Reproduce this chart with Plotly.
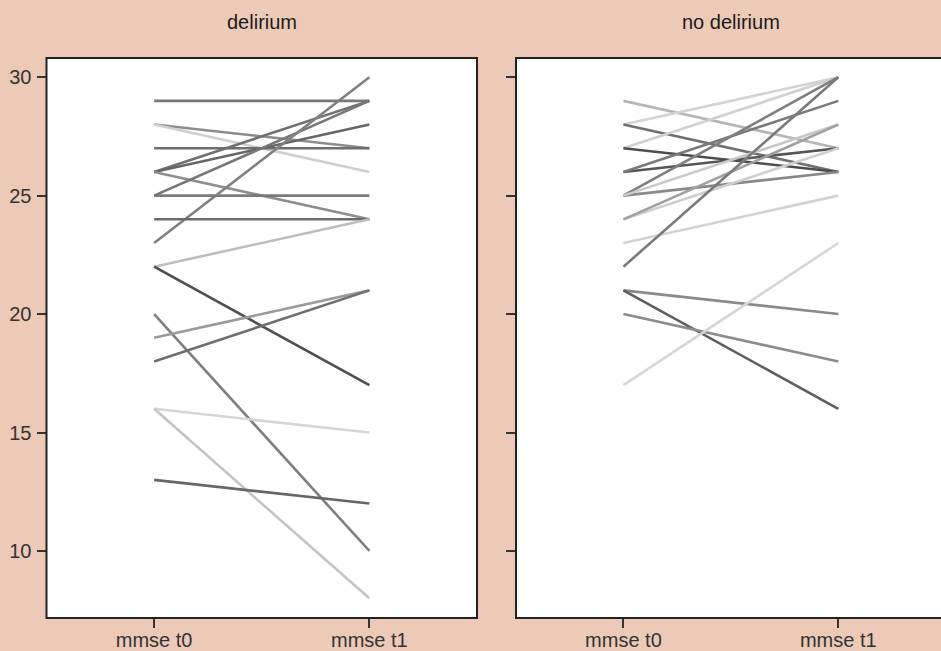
import plotly.graph_objects as go

# ---- data ----
time_labels = ["mmse t0", "mmse t1"]
panel_titles = ["delirium", "no delirium"]

delirium_t0 = [29, 28, 28, 27, 26, 26, 26, 25, 25, 23, 24, 22, 22, 20, 19, 18, 16, 16, 13]
delirium_t1 = [29, 27, 26, 27, 29, 28, 24, 25, 29, 30, 24, 24, 17, 10, 21, 21, 15, 8, 12]

nodelirium_t0 = [29, 28, 28, 27, 27, 26, 26, 25, 25, 25, 24, 24, 23, 22, 21, 21, 20, 17]
nodelirium_t1 = [27, 30, 26, 30, 26, 27, 29, 30, 26, 28, 27, 28, 25, 30, 20, 16, 18, 23]

# ---- styles (one grey per subject line) ----
delirium_greys = ["#777777", "#8C8C8C", "#CFCFCF", "#6E6E6E", "#707070", "#666666",
                  "#8E8E8E", "#7A7A7A", "#777777", "#808080", "#6B6B6B", "#BDBDBD",
                  "#4F4F4F", "#7F7F7F", "#9A9A9A", "#6E6E6E", "#D6D6D6", "#C4C4C4",
                  "#666666"]
nodelirium_greys = ["#B5B5B5", "#D3D3D3", "#707070", "#D0D0D0", "#4D4D4D", "#555555",
                    "#7A7A7A", "#7F7F7F", "#888888", "#C8C8C8", "#CFCFCF", "#A0A0A0",
                    "#D3D3D3", "#7A7A7A", "#8A8A8A", "#5E5E5E", "#8C8C8C", "#D6D6D6"]

BG = "#EDCAB7"
W, H = 941, 651
LW = 2.6
fig = go.Figure()

for a, b, c in zip(delirium_t0, delirium_t1, delirium_greys):
    fig.add_trace(go.Scatter(x=time_labels, y=[a, b], mode="lines",
                             line=dict(color=c, width=LW), xaxis="x", yaxis="y",
                             showlegend=False, hoverinfo="skip"))
for a, b, c in zip(nodelirium_t0, nodelirium_t1, nodelirium_greys):
    fig.add_trace(go.Scatter(x=time_labels, y=[a, b], mode="lines",
                             line=dict(color=c, width=LW), xaxis="x2", yaxis="y2",
                             showlegend=False, hoverinfo="skip"))

FONT = "Liberation Sans, Arial, sans-serif"
tickfont = dict(family=FONT, size=20, color="#333333")
yrange = [7.17, 30.81]
ydom = [(H - 618) / H, (H - 58) / H]

common_x = dict(type="category", categoryorder="array", categoryarray=time_labels,
                showgrid=False, zeroline=False, ticks="outside", ticklen=9,
                tickwidth=2, tickcolor="#333333", tickfont=tickfont, showline=False,
                automargin=False, ticklabelstandoff=-5)
common_y = dict(range=yrange, showgrid=False, zeroline=False, ticks="outside",
                ticklen=9, tickwidth=2, tickcolor="#333333", tickfont=tickfont,
                tickvals=[10, 15, 20, 25, 30], showline=False, domain=ydom,
                automargin=False, ticklabelstandoff=1)

fig.update_layout(
    width=W, height=H,
    margin=dict(l=0, r=0, t=0, b=0, autoexpand=False),
    paper_bgcolor=BG, plot_bgcolor="white",
    xaxis=dict(common_x, domain=[46.5 / W, 477 / W], range=[-0.5, 1.5], anchor="y"),
    yaxis=dict(common_y, anchor="x"),
    xaxis2=dict(common_x, domain=[516 / W, 1.0], range=[-0.5, 1.478], anchor="y2"),
    yaxis2=dict(common_y, anchor="x2", showticklabels=False),
    shapes=[
        dict(type="rect", xref="x domain", yref="y domain", x0=0, x1=1, y0=0, y1=1,
             line=dict(color="#222222", width=2), layer="above"),
        dict(type="rect", xref="x2 domain", yref="y2 domain", x0=0, x1=1.05, y0=0, y1=1,
             line=dict(color="#222222", width=2), layer="above"),
    ],
    annotations=[
        dict(text=panel_titles[0], xref="paper", yref="paper",
             x=(46.5 + 477) / 2 / W, y=(H - 22) / H, showarrow=False,
             xanchor="center", yanchor="middle",
             font=dict(family=FONT, size=20, color="#1A1A1A")),
        dict(text=panel_titles[1], xref="paper", yref="paper",
             x=(516 + 946) / 2 / W, y=(H - 22) / H, showarrow=False,
             xanchor="center", yanchor="middle",
             font=dict(family=FONT, size=20, color="#1A1A1A")),
    ],
)

post = ("document.body.style.margin='0';document.body.style.padding='0';"
        "document.body.style.overflow='hidden';"
        "document.body.style.background='" + BG + "';")
fig.write_html("out.html", post_script=post, config={"displayModeBar": False})
